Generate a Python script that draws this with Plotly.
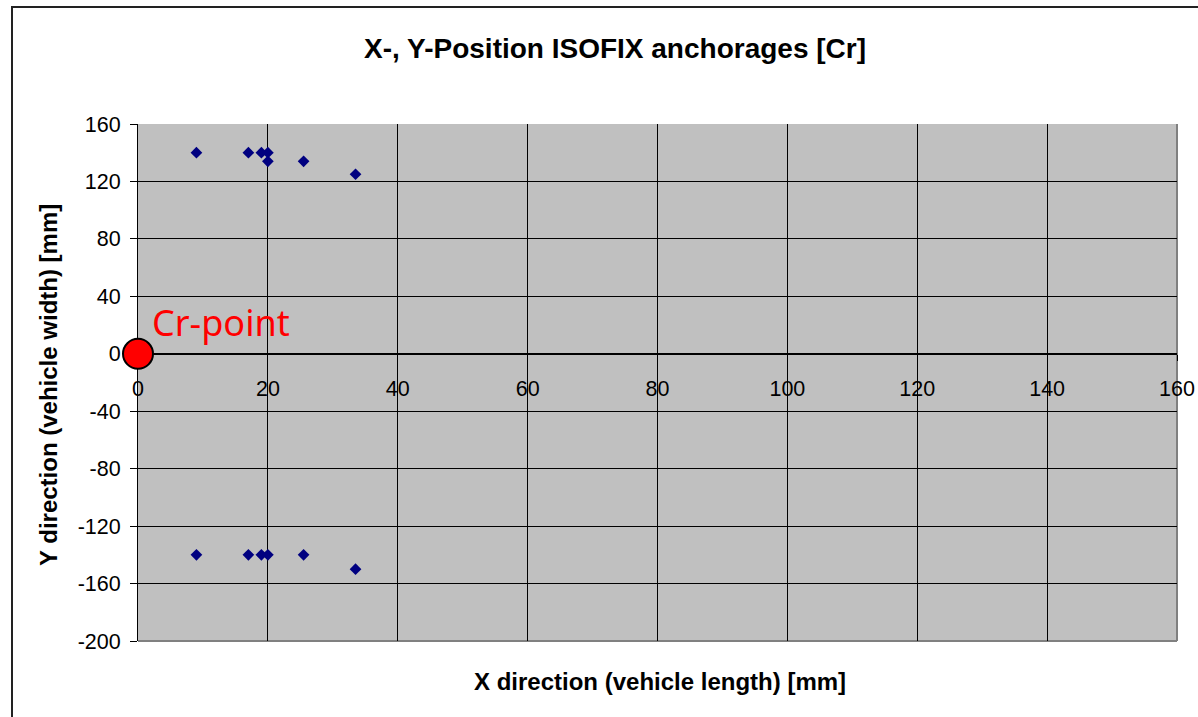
import plotly.graph_objects as go

# Data
upper_x = [9, 17, 19, 20, 20, 25.5, 33.5]
upper_y = [140, 140, 140, 140, 134, 134, 125]
lower_x = [9, 17, 19, 20, 25.5, 33.5]
lower_y = [-140, -140, -140, -140, -140, -150]
cr_x = [0]
cr_y = [0]
x_ticks = [0, 20, 40, 60, 80, 100, 120, 140, 160]
y_ticks = [-200, -160, -120, -80, -40, 0, 40, 80, 120, 160]

title_text = "X-, Y-Position ISOFIX anchorages [Cr]"
x_title = "X direction (vehicle length) [mm]"
y_title = "Y direction (vehicle width) [mm]"

# target screen positions of the plot area
SX0, SX1, SY0, SY1 = 138, 1177, 124, 641
pw, ph = SX1 - SX0, SY1 - SY0
L, T = SX0, SY0
W = 1198
H = 717
R = W - L - pw
B = H - T - ph

def px(xs):
    return (xs - SX0) / pw

def py(ys):
    return 1 - (ys - SY0) / ph

ymin, ymax = -200, 160
font = "Liberation Sans, Arial, sans-serif"
tick_size = 21.5

fig = go.Figure()
fig.add_trace(go.Scatter(
    x=upper_x + lower_x, y=upper_y + lower_y, mode="markers",
    marker=dict(symbol="diamond", size=9, color="#000080"),
    showlegend=False, cliponaxis=False))
fig.add_trace(go.Scatter(
    x=cr_x, y=cr_y, mode="markers",
    marker=dict(symbol="circle", size=30, color="#FF0000",
                line=dict(color="black", width=2)),
    showlegend=False, cliponaxis=False))

zero_pos = (0 - ymin) / (ymax - ymin)

fig.update_layout(
    width=W, height=H,
    margin=dict(l=L, r=R, t=T, b=B, autoexpand=False),
    paper_bgcolor="white", plot_bgcolor="#C0C0C0",
    font=dict(family=font, size=tick_size, color="black"),
    xaxis=dict(range=[0, 160], tickvals=x_ticks, ticktext=[str(v) for v in x_ticks],
               showgrid=True, gridcolor="black", gridwidth=1,
               zeroline=False, showline=True, linecolor="black", linewidth=1,
               ticks="outside", ticklen=6, tickcolor="black",
               anchor="free", position=zero_pos, ticklabelstandoff=9,
               ticklabeloverflow="allow", layer="below traces",
               tickfont=dict(family=font, size=tick_size)),
    yaxis=dict(range=[ymin, ymax], tickvals=y_ticks, ticktext=[str(v) for v in y_ticks],
               showgrid=True, gridcolor="black", gridwidth=1,
               zeroline=False, showline=True, linecolor="black", linewidth=1,
               ticks="outside", ticklen=7, tickcolor="black",
               ticklabelstandoff=5, layer="below traces",
               tickfont=dict(family=font, size=tick_size)),
    shapes=[
        dict(type="line", xref="paper", yref="paper", x0=0, x1=1, y0=0, y1=0,
             line=dict(color="#808080", width=2), layer="below"),
        dict(type="line", xref="paper", yref="paper", x0=1, x1=1, y0=0, y1=1,
             line=dict(color="#808080", width=2), layer="below"),
        dict(type="rect", xref="paper", yref="paper",
             x0=px(12), x1=px(1260), y0=py(760), y1=py(7),
             line=dict(color="#222222", width=2), layer="above"),
    ],
    annotations=[
        dict(text=f"<b>{title_text}</b>", xref="paper", yref="paper",
             x=px(615), y=py(48), xanchor="center", yanchor="middle",
             showarrow=False, font=dict(family=font, size=28, color="black")),
        dict(text=f"<b>{x_title}</b>", xref="paper", yref="paper",
             x=px(660), y=py(681), xanchor="center", yanchor="middle",
             showarrow=False, font=dict(family=font, size=24, color="black")),
        dict(text=f"<b>{y_title}</b>", xref="paper", yref="paper",
             x=px(48), y=py(385), xanchor="center", yanchor="middle", textangle=-90,
             showarrow=False, font=dict(family=font, size=24, color="black")),
        dict(text="Cr-point", xref="x", yref="y", x=1.8, y=22,
             xanchor="left", yanchor="middle", showarrow=False,
             font=dict(family="Noto Sans, sans-serif", size=36, color="#FF0000")),
    ],
)

fig.write_html(
    "out.html",
    config={"displayModeBar": False},
    post_script="document.body.style.margin='0';document.body.style.overflow='hidden';",
)
